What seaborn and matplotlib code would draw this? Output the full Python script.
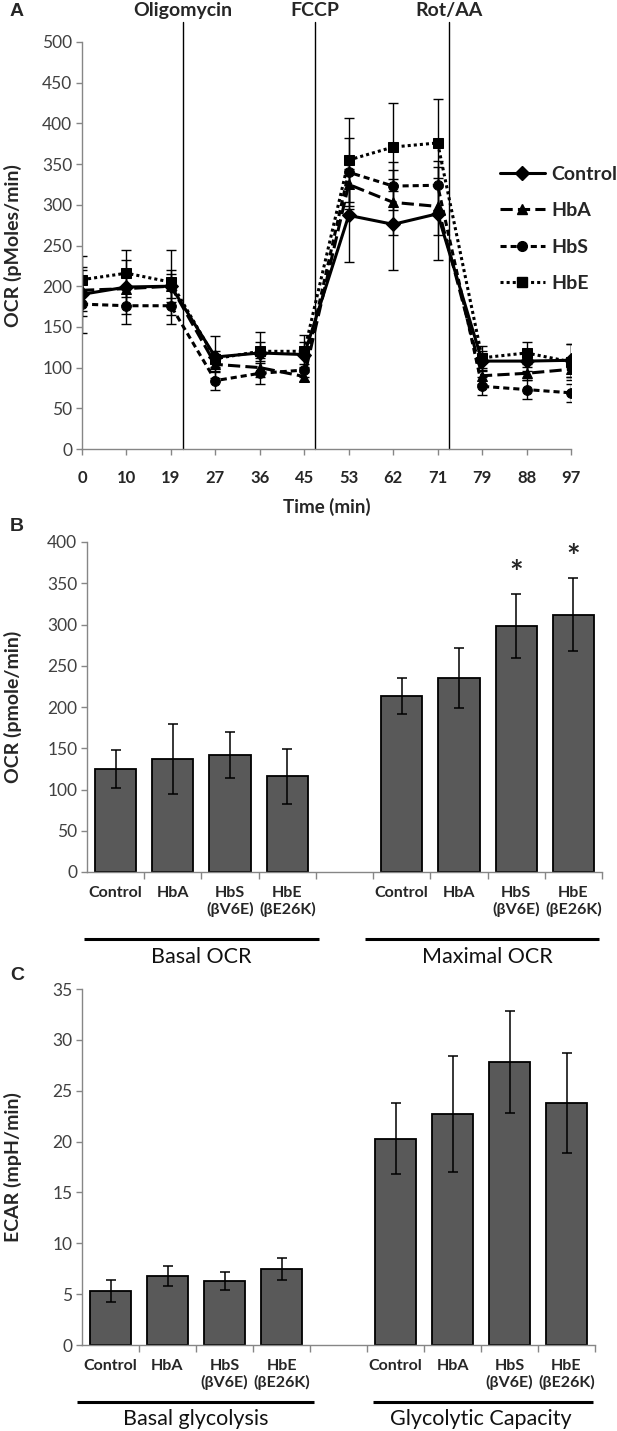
import numpy as np
import pandas as pd
import matplotlib
matplotlib.use('Agg')
from matplotlib import pyplot as plt
from matplotlib import transforms
from matplotlib.lines import Line2D
import seaborn as sns

# ---- data ----
time_labels = ['0', '10', '19', '27', '36', '45', '53', '62', '71', '79', '88', '97']
groups = ['Control', 'HbA', 'HbS', 'HbE']

control_ocr = [190, 199, 200, 113, 118, 116, 287, 276, 289, 108, 108, 109]
control_sd = [47, 33, 20, 26, 26, 15, 57, 56, 57, 12, 12, 20]
hba_ocr = [195, 197, 200, 104, 100, 89, 325, 303, 298, 90, 93, 98]
hba_sd = [25, 20, 15, 10, 12, 6, 30, 40, 35, 10, 8, 10]
hbs_ocr = [178, 176, 176, 84, 93, 97, 340, 323, 324, 77, 73, 69]
hbs_sd = [15, 23, 22, 12, 13, 8, 42, 30, 30, 11, 12, 11]
hbe_ocr = [208, 216, 205, 111, 120, 120, 355, 371, 376, 112, 118, 107]
hbe_sd = [15, 29, 40, 10, 12, 20, 52, 54, 54, 15, 13, 22]

injections = ['Oligomycin', 'FCCP', 'Rot/AA']
injection_pos = [2.27, 5.24, 8.26]

bar_groups = ['Control', 'HbA', 'HbS', 'HbE']
bar_ticklabels = ['Control', 'HbA', 'HbS\n(βV6E)', 'HbE\n(βE26K)']

basal_ocr = [125, 137, 142, 116]
basal_ocr_err = [23, 42, 28, 33]
maximal_ocr = [213, 235, 298, 312]
maximal_ocr_err = [22, 36, 39, 44]
ocr_signif = [False, False, True, True]

basal_glyc = [5.3, 6.8, 6.3, 7.5]
basal_glyc_err = [1.1, 1.0, 0.85, 1.1]
glyc_capacity = [20.3, 22.7, 27.8, 23.8]
glyc_capacity_err = [3.5, 5.7, 5.0, 4.9]

# ---- style ----
W, H = 617, 1431
sns.set_theme(style='white')
plt.rcParams['font.family'] = ['Lato', 'DejaVu Sans']
GRAY = '#868686'
BAR = '#595959'


def px_rect(l, t, r, b):
    return [l / W, 1 - b / H, (r - l) / W, (b - t) / H]


def style_axis(ax):
    sns.despine(ax=ax)
    for s in ['left', 'bottom']:
        ax.spines[s].set_color(GRAY)
        ax.spines[s].set_linewidth(1)
    ax.tick_params(axis='y', left=True, direction='out', length=4, width=1,
                   color=GRAY, labelsize=12.5, labelcolor='#404040', pad=3)


fig = plt.figure(figsize=(W / 100, H / 100), dpi=100)

# ---- panel A: OCR time course ----
axA = fig.add_axes(px_rect(82, 42, 571, 449))
dfA = pd.DataFrame({
    'pos': np.tile(np.arange(len(time_labels)), 4),
    'ocr': np.concatenate([control_ocr, hba_ocr, hbs_ocr, hbe_ocr]),
    'group': np.repeat(groups, len(time_labels)),
})
markers = {'Control': 'D', 'HbA': '^', 'HbS': 'o', 'HbE': 's'}
dashes = {'Control': '', 'HbA': (4, 1.7), 'HbS': (2, 1.3), 'HbE': (1, 1)}
sns.lineplot(data=dfA, x='pos', y='ocr', style='group', style_order=groups,
             markers=markers, dashes=dashes, color='black', linewidth=2.2,
             markersize=7, markeredgecolor='black', errorbar=None,
             legend=False, ax=axA)

for means, sds in [(control_ocr, control_sd), (hba_ocr, hba_sd),
                   (hbs_ocr, hbs_sd), (hbe_ocr, hbe_sd)]:
    axA.errorbar(np.arange(len(time_labels)), means, yerr=sds, fmt='none',
                 ecolor='black', elinewidth=1, capsize=3.5, capthick=1)

axA.set_xlim(0, len(time_labels) - 1)
axA.set_ylim(0, 500)
axA.set_yticks(np.arange(0, 501, 50))
axA.set_xticks(np.arange(len(time_labels)))
axA.set_xticklabels(time_labels, fontweight='bold', fontsize=12)
style_axis(axA)
axA.tick_params(axis='x', bottom=True, direction='out', length=4, width=1,
                color=GRAY, pad=11)
axA.set_xlabel('Time (min)', fontweight='bold', fontsize=13.5, labelpad=9)
axA.set_ylabel('OCR (pMoles/min)', fontweight='bold', fontsize=14)
axA.yaxis.set_label_coords(-0.123, 0.5)

transA = transforms.blended_transform_factory(axA.transData, axA.transAxes)
for name, p in zip(injections, injection_pos):
    axA.plot([p, p], [0, 1.049], transform=transA, color='black', lw=1,
             clip_on=False)
    axA.text(p, 1.078, name, transform=transA, ha='center', va='center',
             fontweight='bold', fontsize=14)

handles = []
for g in groups:
    ls = '-' if dashes[g] == '' else (0, dashes[g])
    handles.append(Line2D([], [], color='black', lw=2.2, linestyle=ls,
                          marker=markers[g], markersize=7))
fig.legend(handles, groups, loc='center left',
           bbox_to_anchor=(500 / W, 1 - 229 / H), frameon=False,
           prop={'weight': 'bold', 'size': 14}, handlelength=2.3,
           handletextpad=0.35, labelspacing=1.0, borderpad=0, borderaxespad=0)


# ---- bar panels ----
def bar_panel(rect, left_vals, left_err, right_vals, right_err, ylim, ystep,
              ylabel, group_names, line_y, label_y, spans, label_x_coord):
    ax = fig.add_axes(rect)
    order = ['L_' + g for g in bar_groups] + ['gap'] + ['R_' + g for g in bar_groups]
    df = pd.DataFrame({
        'key': ['L_' + g for g in bar_groups] + ['R_' + g for g in bar_groups],
        'val': list(left_vals) + list(right_vals),
        'err': list(left_err) + list(right_err),
    })
    sns.barplot(data=df, x='key', y='val', order=order, color=BAR,
                saturation=1, edgecolor='black', linewidth=1.3, width=0.72,
                errorbar=None, ax=ax)
    pos = [order.index(k) for k in df['key']]
    ax.errorbar(pos, df['val'], yerr=df['err'], fmt='none', ecolor='black',
                elinewidth=1.1, capsize=3.5, capthick=1.1)

    ax.set_xlim(-0.5, len(order) - 0.5)
    ax.set_ylim(0, ylim)
    ax.set_yticks(np.arange(0, ylim + 0.01, ystep))
    ax.set_xticks(np.arange(len(order)))
    ax.set_xticklabels(bar_ticklabels + [''] + bar_ticklabels,
                       fontweight='bold', fontsize=11.5)
    ax.set_xticks(np.arange(0.5, len(order), 1), minor=True)
    style_axis(ax)
    ax.tick_params(axis='x', which='major', bottom=True, length=0, pad=10)
    ax.tick_params(axis='x', which='minor', bottom=True, direction='out',
                   length=5, width=1, color=GRAY)
    ax.set_xlabel('')
    ax.set_ylabel(ylabel, fontweight='bold', fontsize=14)
    ax.yaxis.set_label_coords(label_x_coord, 0.5)

    trans = transforms.blended_transform_factory(ax.transData, ax.transAxes)
    centers = [1.5, 6.5]
    for name, (x0, x1), c in zip(group_names, spans, centers):
        ax.plot([x0, x1], [line_y, line_y], transform=trans, color='black',
                lw=2.2, clip_on=False, solid_capstyle='butt')
        ax.text(c, label_y, name, transform=trans, ha='center', va='center',
                fontsize=15.5, color='#111111')
    return ax


axB = bar_panel(px_rect(87, 542, 602, 872), basal_ocr, basal_ocr_err,
                maximal_ocr, maximal_ocr_err, 400, 50, 'OCR (pmole/min)',
                ['Basal OCR', 'Maximal OCR'], -0.203, -0.258,
                [(-0.55, 3.55), (4.35, 8.45)], -0.126)
for i, (v, e, s) in enumerate(zip(maximal_ocr, maximal_ocr_err, ocr_signif)):
    if s:
        axB.text(5 + i, v + e + 6, '*', ha='center', va='bottom',
                 fontsize=23, fontweight='bold')

axC = bar_panel(px_rect(82, 989, 595, 1345), basal_glyc, basal_glyc_err,
                glyc_capacity, glyc_capacity_err, 35, 5, 'ECAR (mpH/min)',
                ['Basal glycolysis', 'Glycolytic Capacity'], -0.160, -0.207,
                [(-0.59, 3.57), (4.6, 8.46)], -0.117)

# panel letters
for letter, y in [('A', 12), ('B', 527), ('C', 975)]:
    fig.text(10 / W, 1 - y / H, letter, fontsize=14, fontweight='bold',
             family='Liberation Sans', va='center', ha='left')

fig.savefig('out.png', dpi=100)
